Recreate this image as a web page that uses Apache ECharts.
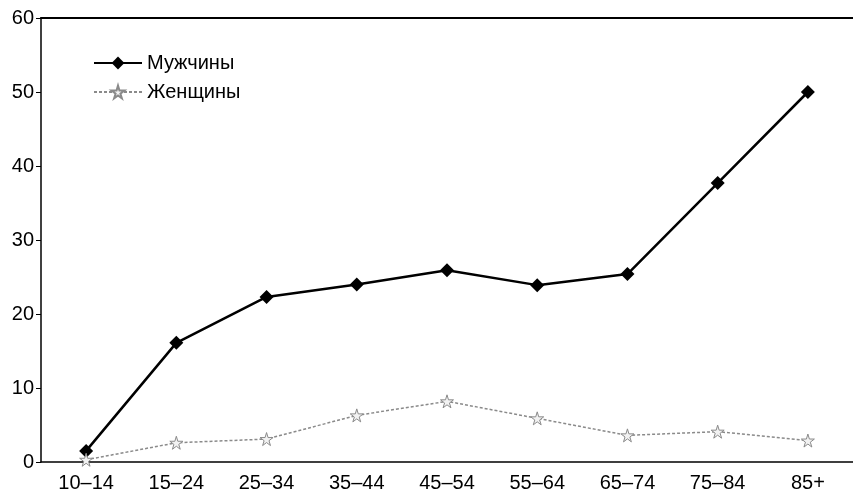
<!DOCTYPE html>
<html>
<head>
<meta charset="utf-8">
<script src="https://cdn.jsdelivr.net/npm/echarts@6/dist/echarts.min.js"></script>
<style>html,body{margin:0;padding:0;background:#fff}#c{width:853px;height:496px}</style>
</head>
<body>
<div id="c"></div>
<script>
const categories = ['10–14','15–24','25–34','35–44','45–54','55–64','65–74','75–84','85+'];
const menValues = [1.5, 16.1, 22.3, 24.0, 25.9, 23.9, 25.4, 37.7, 50.0];
const womenValues = [0.3, 2.6, 3.1, 6.3, 8.2, 5.9, 3.6, 4.1, 2.9];
const yTicks = [0, 10, 20, 30, 40, 50, 60];

const starPath = 'path://M50,0 L61,35 L98,35 L68,57 L79,91 L50,70 L21,91 L32,57 L2,35 L39,35 Z';
const chart = echarts.init(document.getElementById('c'), null, {renderer: 'canvas'});
const font = 'Liberation Sans, Arial, sans-serif';
chart.setOption({
  backgroundColor: '#fff',
  animation: false,
  grid: {left: 41, top: 18, width: 828, height: 444, show: false},
  legend: {
    orient: 'vertical', left: 88, top: 48, itemWidth: 48, itemHeight: 16, itemGap: 9,
    textStyle: {fontFamily: font, fontSize: 20, color: '#000'},
    data: ['Мужчины', 'Женщины']
  },
  xAxis: [{
    type: 'category', data: categories, boundaryGap: true,
    axisLine: {lineStyle: {color: '#000', width: 1.5}},
    axisTick: {alignWithLabel: true, length: 5, lineStyle: {color: '#000'}},
    axisLabel: {fontFamily: font, fontSize: 20, color: '#000', margin: 11, interval: 0},
    splitLine: {show: false}
  }, {
    type: 'category', data: categories, position: 'top', boundaryGap: true,
    axisLine: {show: true, lineStyle: {color: '#000', width: 2}},
    axisTick: {show: false}, axisLabel: {show: false}, splitLine: {show: false}
  }],
  yAxis: {
    type: 'value', min: yTicks[0], max: yTicks[yTicks.length - 1], interval: 10,
    axisLine: {show: true, lineStyle: {color: '#000', width: 1.5}},
    axisTick: {show: true, length: 5, lineStyle: {color: '#000'}},
    axisLabel: {fontFamily: font, fontSize: 20, color: '#000', margin: 7},
    splitLine: {show: false}
  },
  series: [
    {
      name: 'Мужчины', type: 'line', data: menValues,
      symbol: 'diamond', symbolSize: 14,
      lineStyle: {color: '#000', width: 2.5},
      itemStyle: {color: '#000'}
    },
    {
      name: 'Женщины', type: 'line', data: womenValues,
      symbol: starPath, symbolSize: 13,
      lineStyle: {color: '#8a8a8a', width: 1.5, type: [3, 2]},
      itemStyle: {color: '#f2f2f2', borderColor: '#8a8a8a', borderWidth: 1}
    }
  ]
});
</script>
</body>
</html>
